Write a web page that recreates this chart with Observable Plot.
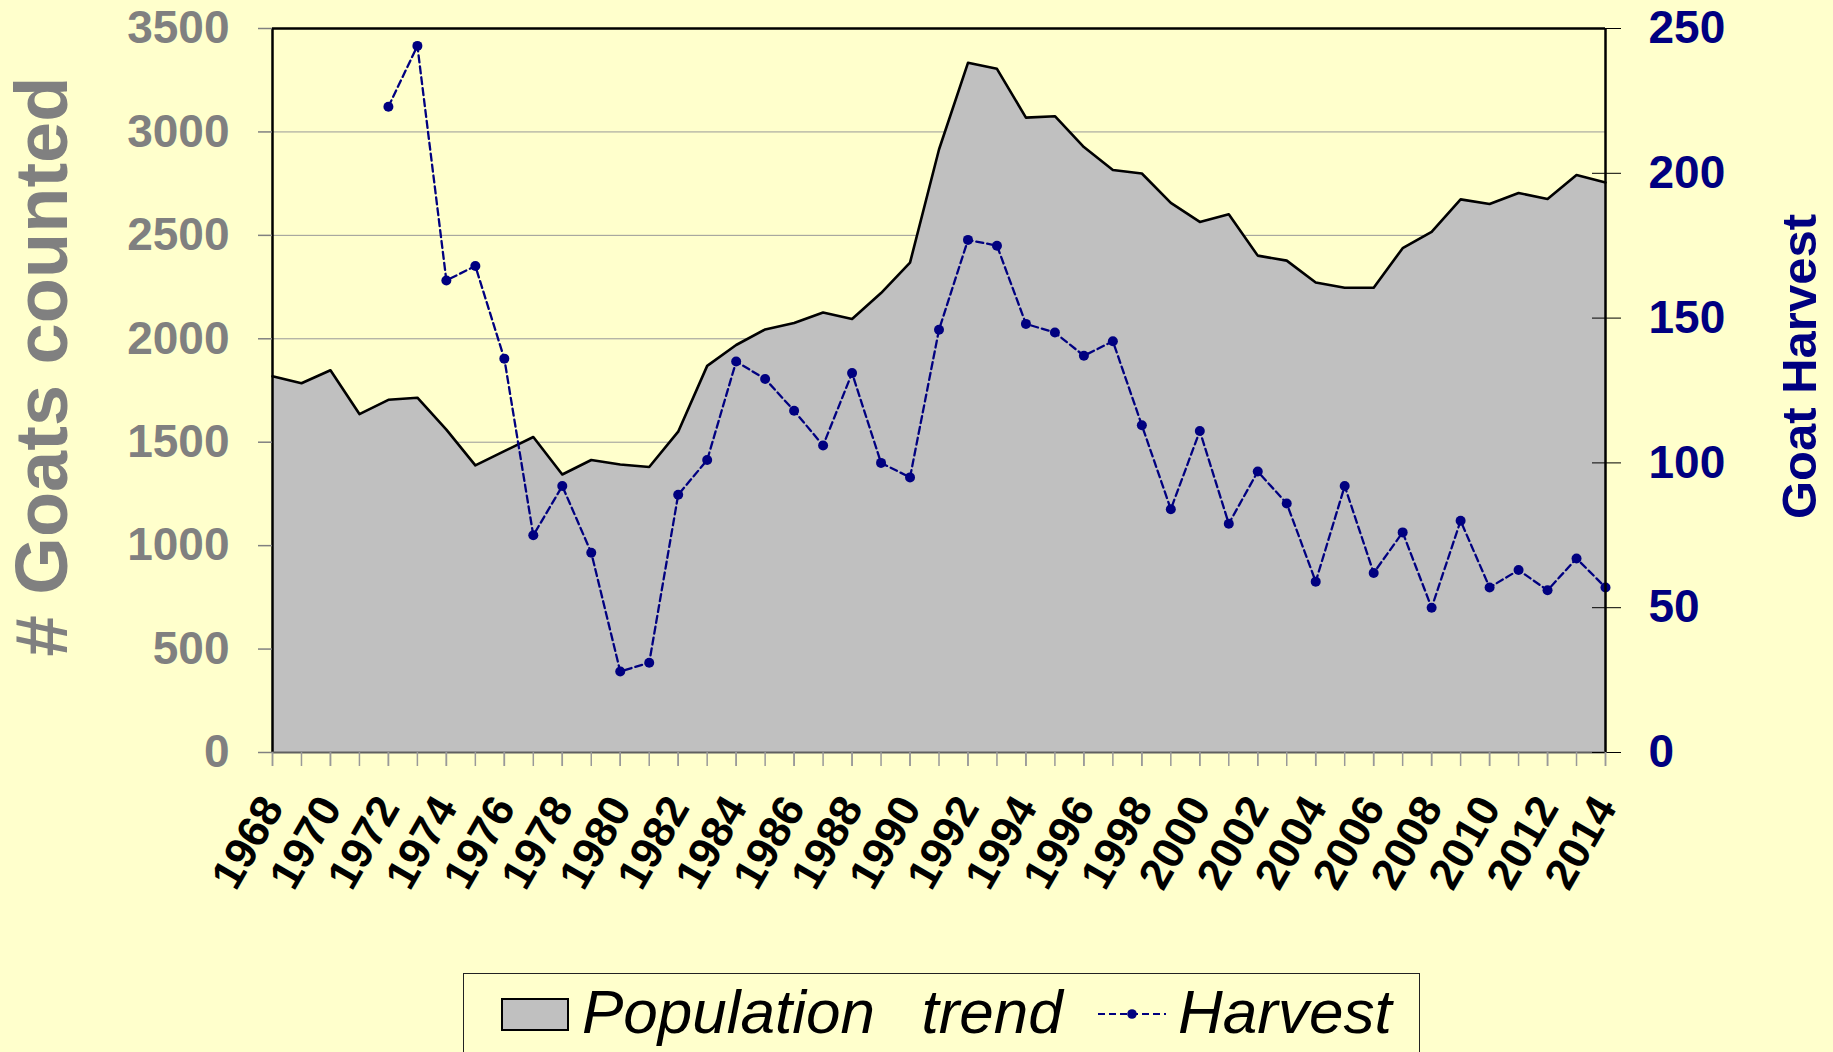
<!DOCTYPE html>
<html>
<head>
<meta charset="utf-8">
<script src="https://cdn.jsdelivr.net/npm/d3@7"></script>
<script src="https://cdn.jsdelivr.net/npm/@observablehq/plot@0.6"></script>
<style>
  html, body { margin: 0; padding: 0; background: #FFFFCC; }
  body { width: 1833px; height: 1052px; position: relative; overflow: hidden; font-family: "Liberation Sans", Arial, sans-serif; }
  #chart { position: absolute; left: 0; top: 0; }
  #legend { position: absolute; left: 463px; top: 973px; width: 957px; height: 120px; border: 1.5px solid #222; box-sizing: border-box; }
  #legend .sw { position: absolute; left: 37px; top: 24px; width: 68px; height: 33px; background: #C0C0C0; border: 2px solid #000; box-sizing: border-box; }
  #legend .lbl { position: absolute; top: 7px; font-style: italic; font-size: 62px; line-height: 62px; color: #000; white-space: pre; }
  #legend svg { position: absolute; left: 633px; top: 30px; }
</style>
</head>
<body>
<div id="chart"></div>
<div id="legend">
  <div class="sw"></div>
  <div class="lbl" style="left:118px; word-spacing: 6px;">Population  trend</div>
  <svg width="70" height="20"><line x1="1" y1="10" x2="69" y2="10" stroke="#000080" stroke-width="2.2" stroke-dasharray="7,4"></line><circle cx="35" cy="10" r="4.8" fill="#000080"></circle></svg>
  <div class="lbl" style="left:714px">Harvest</div>
</div>
<script>
// ---- data ----
const years = [1968, 1969, 1970, 1971, 1972, 1973, 1974, 1975, 1976, 1977,
  1978, 1979, 1980, 1981, 1982, 1983, 1984, 1985, 1986, 1987,
  1988, 1989, 1990, 1991, 1992, 1993, 1994, 1995, 1996, 1997,
  1998, 1999, 2000, 2001, 2002, 2003, 2004, 2005, 2006, 2007,
  2008, 2009, 2010, 2011, 2012, 2013, 2014];
const population = [1819, 1785, 1848, 1636, 1705, 1715, 1561, 1388, 1457, 1525,
  1344, 1414, 1392, 1380, 1551, 1869, 1970, 2045, 2076, 2127,
  2096, 2221, 2368, 2915, 3334, 3305, 3069, 3076, 2927, 2816,
  2799, 2657, 2565, 2602, 2402, 2378, 2272, 2247, 2247, 2438,
  2517, 2674, 2652, 2705, 2676, 2792, 2756];
const harvestYears = [1972, 1973, 1974, 1975, 1976, 1977, 1978, 1979, 1980, 1981,
  1982, 1983, 1984, 1985, 1986, 1987, 1988, 1989, 1990, 1991,
  1992, 1993, 1994, 1995, 1996, 1997, 1998, 1999, 2000, 2001,
  2002, 2003, 2004, 2005, 2006, 2007, 2008, 2009, 2010, 2011,
  2012, 2013, 2014];
const harvest = [223, 244, 163, 168, 136, 75, 92, 69, 28, 31,
  89, 101, 135, 129, 118, 106, 131, 100, 95, 146,
  177, 175, 148, 145, 137, 142, 113, 84, 111, 79,
  97, 86, 59, 92, 62, 76, 50, 80, 57, 63,
  56, 67, 57];
const popTicks = [0, 500, 1000, 1500, 2000, 2500, 3000, 3500];
const harvestTicks = [0, 50, 100, 150, 200, 250];
const yearLabels = [1968, 1970, 1972, 1974, 1976, 1978, 1980, 1982, 1984, 1986,
  1988, 1990, 1992, 1994, 1996, 1998, 2000, 2002, 2004, 2006, 2008, 2010, 2012, 2014];

// ---- build tables ----
const popMax = 3500, harvestMax = 250;
const k = popMax / harvestMax; // right axis mapped onto left scale
const popData = years.map((y, i) => ({year: y, pop: population[i]}));
const harvestData = harvestYears.map((y, i) => ({year: y, h: harvest[i] * k}));
const rightTickPos = harvestTicks.map(v => v * k);

const W = 1833, H = 960;
const chart = Plot.plot({
  width: W,
  height: H,
  marginLeft: 272,
  marginRight: 228,
  marginTop: 28,
  marginBottom: 208,
  style: {background: "#FFFFCC", fontFamily: "'Liberation Sans', Arial, sans-serif", overflow: "visible"},
  x: {domain: [1968, 2014]},
  y: {domain: [0, popMax]},
  marks: [
    Plot.gridY(popTicks, {stroke: "#999", strokeOpacity: 1, strokeWidth: 1}),
    Plot.areaY(popData, {x: "year", y: "pop", fill: "#C0C0C0"}),
    Plot.lineY(popData, {x: "year", y: "pop", stroke: "black", strokeWidth: 2.6}),
    Plot.lineY(harvestData, {x: "year", y: "h", stroke: "#000080", strokeWidth: 2.3, strokeDasharray: "7,4"}),
    Plot.dot(harvestData, {x: "year", y: "h", r: 5, fill: "#000080"}),
    // frame
    Plot.ruleY([popMax], {stroke: "black", strokeWidth: 2.5}),
    Plot.ruleX([1968, 2014], {stroke: "black", strokeWidth: 2.5}),
    Plot.ruleY([0], {stroke: "#606060", strokeWidth: 2}),
    // left axis
    Plot.axisY(popTicks, {anchor: "left", tickSize: 14, tickPadding: 29, color: "#808080", strokeWidth: 1.5,
      fontSize: 46, fontWeight: "bold", tickFormat: d => String(d), label: null}),
    // right axis ticks (crossing) and labels
    Plot.axisY(rightTickPos, {anchor: "right", tickSize: 29, dx: -14, color: "black", tickFormat: () => "", label: null}),
    Plot.axisY(rightTickPos, {anchor: "right", tickSize: 0, tickPadding: 43, color: "#000080",
      fontSize: 46, fontWeight: "bold", tickFormat: d => String(Math.round(d / k)), label: null}),
    // bottom axis: yearly ticks and biennial labels
    Plot.axisX(years, {anchor: "bottom", tickSize: 14, color: "#999", strokeWidth: 1.5, tickFormat: () => "", label: null}),
    Plot.axisX(yearLabels, {anchor: "bottom", tickSize: 14, tickPadding: 34, tickRotate: -60, stroke: "#999", fill: "black",
      strokeWidth: 1.5, fontSize: 44, fontWeight: "bold", tickFormat: d => String(d), label: null}),
    // axis titles
    Plot.text(["# Goats counted"], {frameAnchor: "left", textAnchor: "middle", lineAnchor: "middle", dx: -229, dy: -24,
      rotate: -90, fontSize: 74, fontWeight: "bold", fill: "#808080"}),
    Plot.text(["Goat Harvest"], {frameAnchor: "right", textAnchor: "middle", lineAnchor: "middle", dx: 195, dy: -24,
      rotate: -90, fontSize: 49, fontWeight: "bold", fill: "#000080"})
  ]
});
document.getElementById("chart").appendChild(chart);
</script>
</body>
</html>
